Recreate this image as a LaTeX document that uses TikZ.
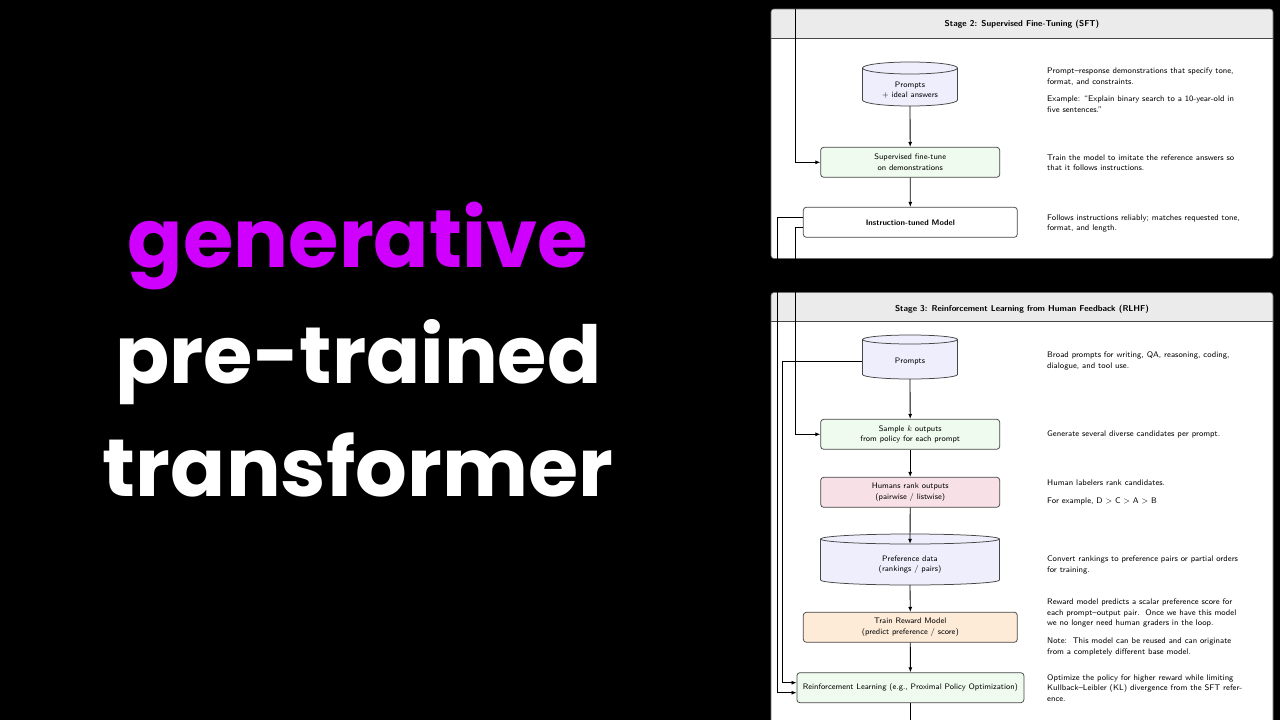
\documentclass[tikz,border=0pt]{standalone}
\usepackage{fontspec}
\newfontfamily\popfont{Poppins}
\usepackage{graphicx}
\usetikzlibrary{arrows.meta}
\definecolor{magentaP}{RGB}{208,0,255}
\definecolor{boxline}{RGB}{70,70,70}
\definecolor{greenfill}{RGB}{238,251,238}
\definecolor{pinkfill}{RGB}{247,224,230}
\definecolor{peachfill}{RGB}{253,235,216}
\definecolor{lavfill}{RGB}{238,238,252}
\definecolor{headfill}{RGB}{235,235,235}
\definecolor{panelline}{RGB}{110,110,110}
\newcommand\cylshape[5]{% cx, top, bottom, rx, ry
  \filldraw[cylbody] ({#1-#4},{-(#2)-(#5)}) -- ({#1-#4},{-(#3)+(#5)})
    arc[start angle=180,end angle=360,x radius=#4,y radius=#5]
    -- ({#1+#4},{-(#2)-(#5)})
    arc[start angle=0,end angle=180,x radius=#4,y radius=#5] -- cycle;
  \draw[cylbody,fill=none] ({#1-#4},{-(#2)-(#5)})
    arc[start angle=180,end angle=360,x radius=#4,y radius=#5];
}
\newcommand\bigword[2]{\resizebox{#1pt}{!}{\popfont\bfseries\fontsize{80}{90}\selectfont #2}}
\begin{document}
\begin{tikzpicture}[x=1pt,y=1pt,
  big/.style={anchor=base, inner sep=0},
  panel/.style={fill=white, rounded corners=3pt},
  paneledge/.style={draw=panelline, line width=0.6pt, rounded corners=3pt},
  title/.style={font=\sffamily\bfseries\fontsize{8.5}{10}\selectfont, anchor=base, inner sep=0},
  proc/.style={draw=boxline, line width=0.75pt, rounded corners=3pt, align=center, inner sep=0,
    font=\sffamily\fontsize{8}{10.5}\selectfont},
  note/.style={anchor=north west, align=left, inner sep=0, font=\sffamily\fontsize{8.15}{10.5}\selectfont},
  cylbody/.style={fill=lavfill, draw=boxline, line width=0.75pt},
  cyltext/.style={align=center, inner sep=0, font=\sffamily\fontsize{8}{10.5}\selectfont},
  conn/.style={-{Latex[length=5pt,width=4pt]}, line width=0.85pt, black},
  wire/.style={line width=0.85pt, black}
]
\useasboundingbox (0,0) rectangle (1280,-720);
\clip (0,0) rectangle (1280,-720);
\fill[black] (0,0) rectangle (1280,-720);

% big title words
\node[big, text=magentaP] (wgen) at (358,-267) {\bigword{460}{generative}};
\node[big, text=white] (wpre) at (358.5,-383) {\bigword{486}{pre-trained}};
\node[big, text=white] (wtra) at (358,-496) {\bigword{510}{transformer}};

% ---------- panel 1 ----------
\path[panel] (771,-9) rectangle (1273,-258.5);
\begin{scope}
  \clip[rounded corners=3pt] (771,-9) rectangle (1273,-258.5);
  \fill[headfill] (771,-9) rectangle (1273,-38);
\end{scope}
\draw[boxline, line width=0.7pt] (771,-38) -- (1273,-38);
\path[paneledge] (771,-9) rectangle (1273,-258.5);
\node[title] (h2) at (1022,-26.7) {Stage 2: Supervised Fine-Tuning (SFT)};

\cylshape{910}{62}{106}{47.5}{6}
\node[cyltext, minimum width=95, minimum height=32] (c1) at (910,-90) {Prompts\\$+$ ideal answers};
\node[proc, fill=greenfill, minimum width=179, minimum height=30] (sft) at (910.2,-162.3) {Supervised fine-tune\\on demonstrations};
\node[proc, fill=white, minimum width=214, minimum height=30] (itm) at (910.3,-222.3) {\bfseries Instruction-tuned Model};

\node[note] (n1) at (1047,-66) {\strut Prompt--response demonstrations that specify tone,\\format, and constraints.};
\node[note] (n2) at (1047,-94.3) {\strut Example: ``Explain binary search to a 10-year-old in\\five sentences.''};
\node[note] (n3) at (1047,-152.6) {\strut Train the model to imitate the reference answers so\\that it follows instructions.};
\node[note] (n4) at (1047,-212.6) {\strut Follows instructions reliably; matches requested tone,\\format, and length.};

% ---------- panel 2 ----------
\path[panel] (771,-292.5) rectangle (1273,-740);
\begin{scope}
  \clip[rounded corners=3pt] (771,-292.5) rectangle (1273,-740);
  \fill[headfill] (771,-292.5) rectangle (1273,-321);
\end{scope}
\draw[boxline, line width=0.7pt] (771,-321) -- (1273,-321);
\path[paneledge] (771,-292.5) rectangle (1273,-740);
\node[title] (h3) at (1022,-311.7) {Stage 3: Reinforcement Learning from Human Feedback (RLHF)};

\cylshape{910}{335}{379}{47.5}{4.5}
\node[cyltext, minimum width=95, minimum height=35] (p2) at (910,-361.5) {Prompts};
\node[proc, fill=greenfill, minimum width=179, minimum height=30] (sample) at (910.2,-434.3) {Sample $k$ outputs\\from policy for each prompt};
\node[proc, fill=pinkfill, minimum width=179, minimum height=30] (humans) at (910.2,-492.3) {Humans rank outputs\\(pairwise / listwise)};
\cylshape{910}{534}{585}{89.5}{5}
\node[cyltext, minimum width=179, minimum height=41] (pref) at (910,-564.5) {Preference data\\(rankings / pairs)};
\node[proc, fill=peachfill, minimum width=214, minimum height=30] (reward) at (910.3,-627.3) {Train Reward Model\\(predict preference / score)};
\node[proc, fill=greenfill, minimum width=227, minimum height=30] (rl) at (910.4,-687.7) {Reinforcement Learning (e.g., Proximal Policy Optimization)};

\node[note] (m1) at (1047,-350) {\strut Broad prompts for writing, QA, reasoning, coding,\\dialogue, and tool use.};
\node[note] (m2) at (1047,-429.3) {\strut Generate several diverse candidates per prompt.};
\node[note] (m3) at (1047,-477.6) {\strut Human labelers rank candidates.};
\node[note] (m4) at (1047,-496) {\strut For example, D $>$ C $>$ A $>$ B};
\node[note] (m5) at (1047,-554.3) {\strut Convert rankings to preference pairs or partial orders\\for training.};
\node[note] (m6) at (1047,-597) {\strut Reward model predicts a scalar preference score for\\each prompt--output pair.\ \ Once we have this model\\we no longer need human graders in the loop.};
\node[note] (m7) at (1047,-636) {\strut Note:\ \ This model can be reused and can originate\\from a completely different base model.};
\node[note] (m8) at (1047,-672.6) {\strut Optimize the policy for higher reward while limiting\\Kullback--Leibler (KL) divergence from the SFT refer-\\ence.};

% ---------- connectors ----------
\coordinate (fromabove) at (795.7,-9);
\coordinate (tobelow) at (910.4,-725);
\draw[conn] (c1.south) -- (sft.north);
\draw[conn] (sft.south) -- (itm.north);
\draw[conn] (fromabove) |- (sft.west);
\draw[conn] ([yshift=5]itm.west) -- ++(-25.3,0) |- ([yshift=-5]rl.west);
\draw[conn] ([yshift=-5]itm.west) -- ++(-7.6,0) |- (sample.west);
\draw[conn] (p2.west) -- ++(-80,0) |- ([yshift=5]rl.west);
\draw[conn] (p2.south) -- (sample.north);
\draw[conn] (sample.south) -- (humans.north);
\draw[conn] (humans.south) -- (pref.north);
\draw[conn] (pref.south) -- (reward.north);
\draw[conn] (reward.south) -- (rl.north);
\draw[wire] (rl.south) -- (tobelow);
\end{tikzpicture}
\end{document}
